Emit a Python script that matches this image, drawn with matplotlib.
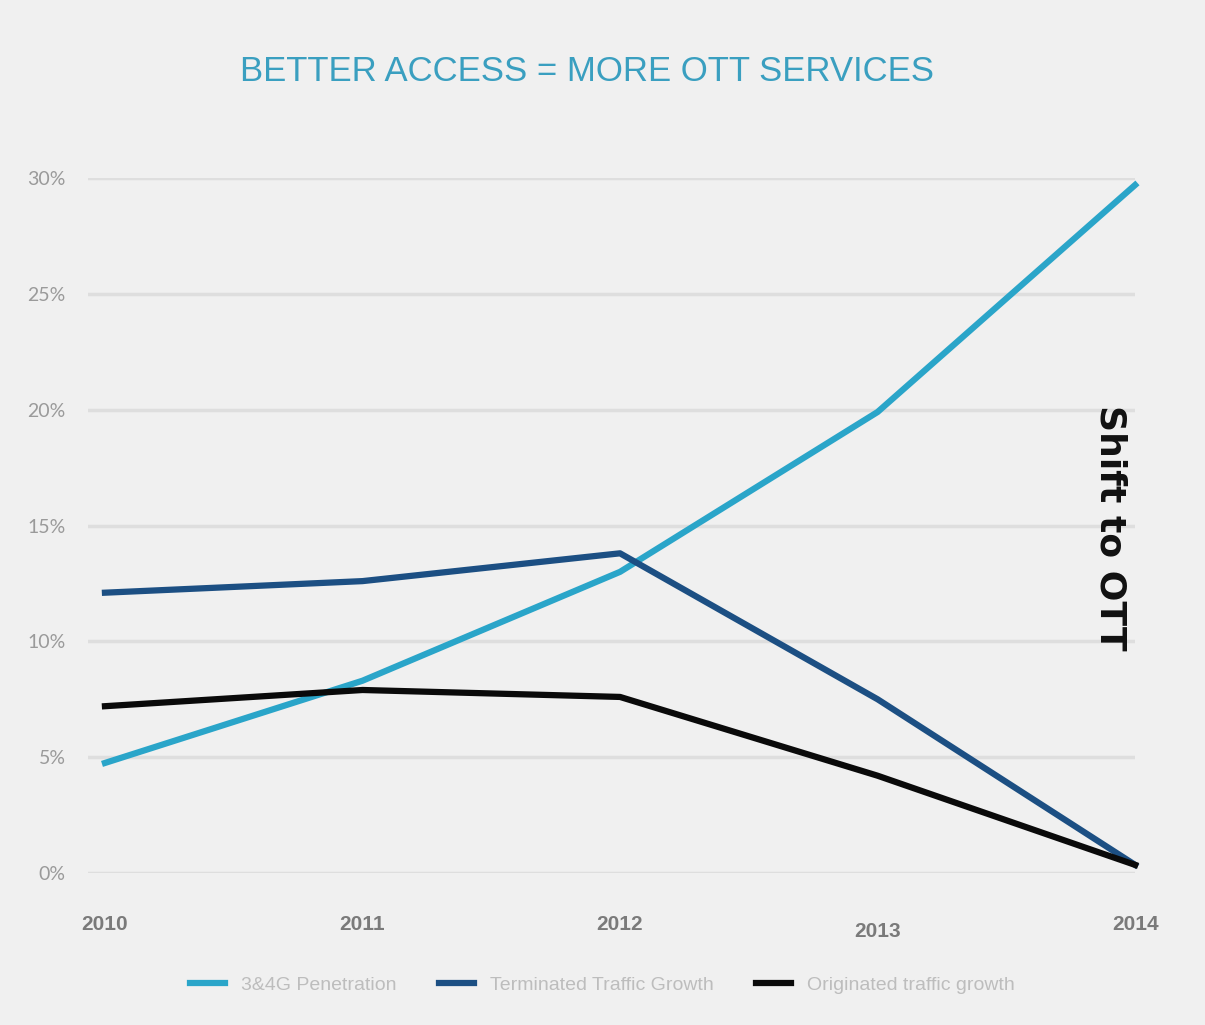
import matplotlib
matplotlib.use("Agg")
import matplotlib.pyplot as plt
import matplotlib.transforms as mtransforms

# --- данные ---
years = ["2010", "2011", "2012", "2013", "2014"]
penetration = [4.75, 8.3, 13.0, 19.9, 29.7]
terminated = [12.1, 12.6, 13.8, 7.5, 0.35]
originated = [7.2, 7.9, 7.6, 4.2, 0.35]
y_ticks = [0, 5, 10, 15, 20, 25, 30]

BG = "#f0f0f0"

fig = plt.figure(figsize=(12.05, 10.25), dpi=100, facecolor=BG)
ax = fig.add_axes([0.073, 0.1483, 0.869, 0.678], facecolor=BG)

x = list(range(len(years)))
ax.plot(x, penetration, color="#2aa5c9", lw=4.5, label="3&4G Penetration",
        clip_on=False, zorder=3)
ax.plot(x, terminated, color="#1c4f83", lw=4.5, label="Terminated Traffic Growth",
        clip_on=False, zorder=3)
ax.plot(x, originated, color="#0a0a0a", lw=4.5, label="Originated traffic growth",
        clip_on=False, zorder=3)

ax.set_xlim(-0.066, 4.0)
ax.set_ylim(0, 30)
ax.set_yticks(y_ticks)
ax.set_yticklabels([f"{v}%" for v in y_ticks], color="#9a9a9a", fontsize=14,
                   family="Lato")
ax.grid(axis="y", color="#dedede", lw=2.5)
ax.set_axisbelow(True)
ax.tick_params(axis="both", length=0)
ax.tick_params(axis="y", pad=16)
ax.set_xticks(x)
ax.set_xticklabels(years, color="#7a7a7a", fontsize=15, fontweight="bold",
                   family="Liberation Sans")
ax.tick_params(axis="x", pad=30)
for s in ax.spines.values():
    s.set_visible(False)

# 2013 подпись чуть ниже
lbl = ax.get_xticklabels()[3]
lbl.set_transform(lbl.get_transform() +
                  mtransforms.ScaledTranslation(0, -0.07, fig.dpi_scale_trans))

ax.text(3.905, 14.9, "Shift to OTT", rotation=270, ha="center", va="center",
        fontsize=26, fontweight="bold", family="DejaVu Sans", color="#111111")

fig.text(0.487, 0.93, "BETTER ACCESS = MORE OTT SERVICES", ha="center",
         va="center", fontsize=25, color="#3a9fc0", family="Liberation Sans")

fig.legend(loc="center", bbox_to_anchor=(0.5, 0.039), ncol=3, frameon=False,
           handlelength=1.8, columnspacing=2.2,
           labelcolor="#bdbdbd", prop={"family": "Liberation Sans", "size": 14})

fig.savefig("out.png", dpi=100, facecolor=BG)
